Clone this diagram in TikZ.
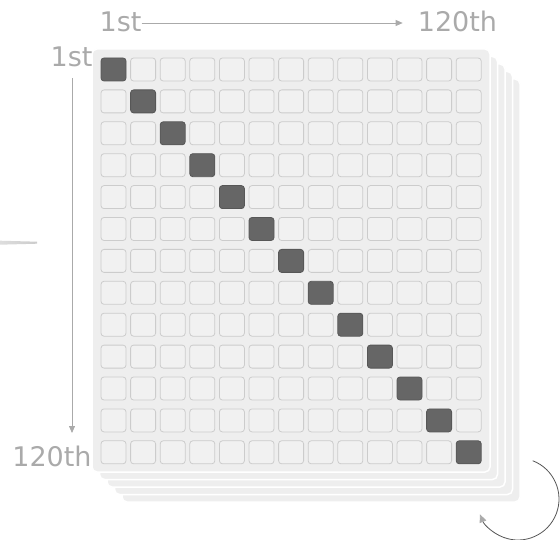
\documentclass[tikz,border=0pt]{standalone}
\usepackage{fontspec}
\setmainfont{DejaVu Sans}
\usetikzlibrary{arrows.meta}
\definecolor{sheet}{HTML}{EEEEEE}
\definecolor{cellfill}{HTML}{F1F1F1}
\definecolor{cellline}{HTML}{CCCCCC}
\definecolor{hit}{HTML}{666666}
\definecolor{label}{HTML}{AAAAAA}
\definecolor{spin}{HTML}{555555}

\begin{document}
\begin{tikzpicture}[
    x=1pt, y=-1pt,
    page/.style={fill=sheet, draw=white, line width=1.5pt, rounded corners=5pt},
    cell/.style={rectangle, draw=cellline, fill=cellfill, rounded corners=3pt, minimum width=25pt, minimum height=23pt, inner sep=0pt, line width=0.8pt},
    diag/.style={cell, fill=hit, draw=hit!85!black},
    tag/.style={text=label, font=\fontsize{27}{31}\selectfont, inner sep=0pt, anchor=base},
    arrow/.style={-{Triangle[length=7pt, width=6pt]}, line width=0.8pt, color=label},
    spinarrow/.style={-{Triangle[length=8pt, width=7pt, color=label]}, line width=0.8pt, color=spin}
]
\useasboundingbox (0,0) rectangle (560,540);

% stacked sheets
\foreach \k in {4,3,2,1}
    \draw[page, shift={(7.5*\k,7.5*\k)}] (92,49) rectangle (490,472);
\draw[page] (92,49) rectangle (490,472);

% grid of cells
\foreach \r in {0,...,12}
    \foreach \c in {0,...,12} {
        \ifnum\r=\c
            \node[diag] (c\r-\c) at ({113.5+29.6*\c},{69.5+31.9*\r}) {};
        \else
            \node[cell] (c\r-\c) at ({113.5+29.6*\c},{69.5+31.9*\r}) {};
        \fi
    }

% labels
\node[tag] (top1) at (120.5,32) {1st};
\node[tag] (top120) at (457.5,32) {120th};
\node[tag] (left1) at (71.5,67) {1st};
\node[tag] (left120) at (52,466) {120th};

\draw[arrow] ([yshift=9pt]top1.base east) -- ([xshift=-15pt,yshift=9pt]top120.base west);
\draw[arrow] ([xshift=0.5pt,yshift=-11pt]left1.base) -- ([xshift=20pt,yshift=33pt]left120.base);

% incoming stub
\shade[left color=label!40, right color=label!120!black] (0,240.7) -- (37,241.7) -- (37,243.7) -- (0,244.7) -- cycle;

% rotation arrow
\coordinate (turn) at (518,499);
\draw[spinarrow] ([shift={(69:41pt)}]turn) arc[start angle=69, end angle=-158, radius=41pt];
\end{tikzpicture}
\end{document}
